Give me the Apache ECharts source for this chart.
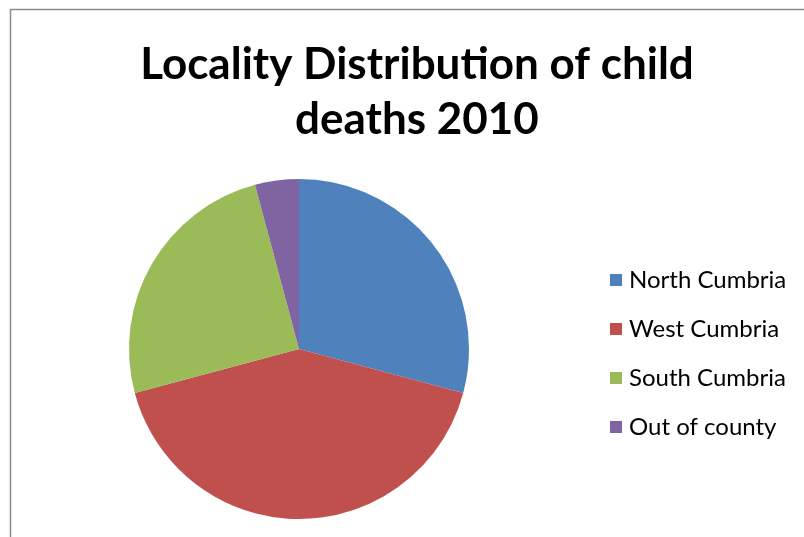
<!DOCTYPE html>
<html><head><meta charset="utf-8">
<script src="https://cdn.jsdelivr.net/npm/echarts@6/dist/echarts.min.js"></script>
<style>html,body{margin:0;padding:0;background:#fff}#c{width:804px;height:537px}</style>
</head><body><div id="c"></div>
<script>
const categories = ['North Cumbria', 'West Cumbria', 'South Cumbria', 'Out of county'];
const values = [7, 10, 6, 1];
const colors = ['#4F81BD', '#C0504D', '#9BBB59', '#8064A2'];
const titleText = 'Locality Distribution of child\ndeaths 2010';

const chart = echarts.init(document.getElementById('c'));
chart.setOption({
  animation: false,
  color: colors,
  graphic: [{
    type: 'polyline',
    shape: { points: [[10.5, 540], [10.5, 9.5], [810, 9.5]] },
    style: { stroke: '#8c8c8c', lineWidth: 1.5, fill: null }
  }],
  title: {
    text: titleText,
    left: 412, top: 32, textAlign: 'center',
    textStyle: { fontFamily: 'Lato', fontWeight: 'bold', fontSize: 44, lineHeight: 55, color: '#000' }
  },
  legend: {
    orient: 'vertical', left: 605, top: 263,
    itemWidth: 12, itemHeight: 12, itemGap: 25,
    icon: 'rect',
    textStyle: { fontFamily: 'Lato', fontSize: 24, lineHeight: 24, color: '#000', padding: [0, 0, 0, 2] },
    data: categories
  },
  series: [{
    type: 'pie',
    center: [299, 349], radius: 170,
    startAngle: 90, clockwise: true,
    label: { show: false }, labelLine: { show: false },
    itemStyle: { borderWidth: 0 },
    emphasis: { disabled: true },
    data: categories.map((n, i) => ({ name: n, value: values[i] }))
  }]
});
</script></body></html>
